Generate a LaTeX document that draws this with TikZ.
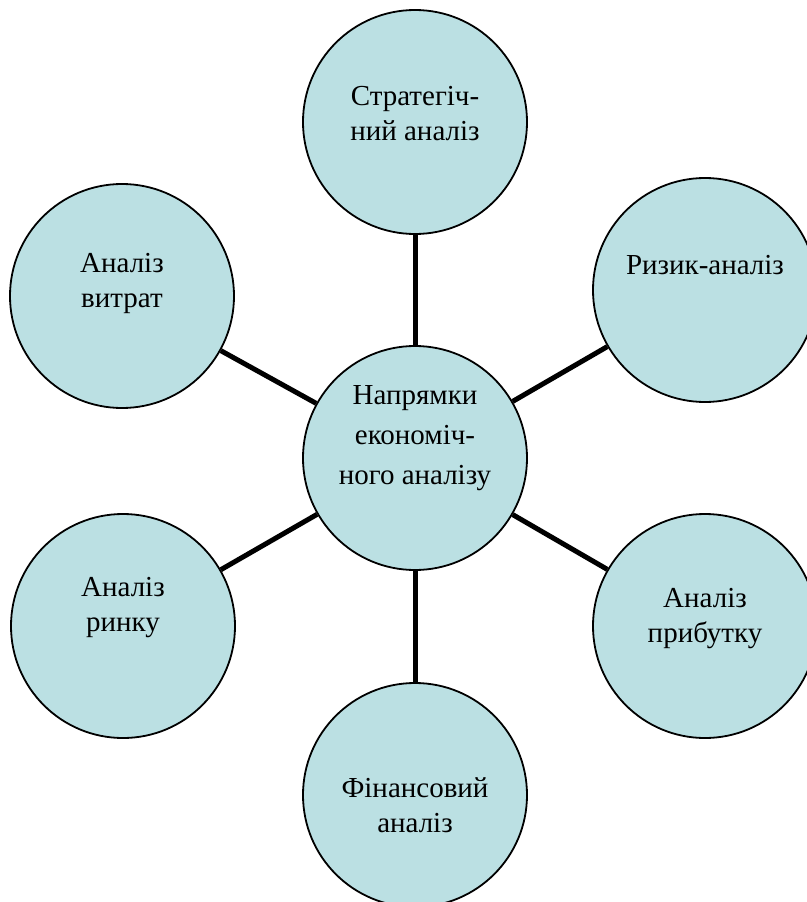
\documentclass[tikz,border=0pt]{standalone}
\usepackage{fontspec}
\setmainfont{Liberation Serif}
\usepackage{xcolor}
\definecolor{bubblebg}{HTML}{BBE0E3}
\usetikzlibrary{positioning, calc}

\begin{document}
\begin{tikzpicture}[
        x=1pt, y=-1pt,
        bubble/.style={
            circle,
            draw=black,
            line width=1.8pt,
            fill=bubblebg,
            minimum size=224pt,
            inner sep=0pt
        },
        bubtext/.style={
            align=center,
            inner sep=0pt,
            font=\rmfamily\fontsize{29}{35}\selectfont
        },
        spoke/.style={
            draw=black,
            line width=5pt
        }
    ]
    \useasboundingbox (0,0) rectangle (806,902);

    % Central circle
    \node[bubble] (hub) at (415,458) {};
    \node[bubtext, font=\rmfamily\fontsize{29}{40}\selectfont] (hubtext) at ([yshift=20pt]hub.center) {Напрямки\\економіч-\\ного аналізу};

    % Outer circles
    \node[bubble] (strat) at (415,122) {};
    \node[bubtext] (strattext) at ([yshift=8pt]strat.center) {Стратегіч-\\ний аналіз};

    \node[bubble] (risk) at (705,290) {};
    \node[bubtext] (risktext) at ([yshift=25pt]risk.center) {Ризик-аналіз};

    \node[bubble] (profit) at (705,626) {};
    \node[bubtext] (profittext) at ([yshift=7pt]profit.center) {Аналіз\\прибутку};

    \node[bubble] (fin) at (415,795) {};
    \node[bubtext] (fintext) at ([yshift=-10pt]fin.center) {Фінансовий\\аналіз};

    \node[bubble] (market) at (123,626) {};
    \node[bubtext] (markettext) at ([yshift=18pt]market.center) {Аналіз\\ринку};

    \node[bubble] (cost) at (122,296) {};
    \node[bubtext] (costtext) at ([yshift=13pt]cost.center) {Аналіз\\витрат};

    % Connecting spokes
    \foreach \outer in {strat, risk, profit, fin, market, cost}
        \draw[spoke] (hub) -- (\outer);

\end{tikzpicture}
\end{document}
